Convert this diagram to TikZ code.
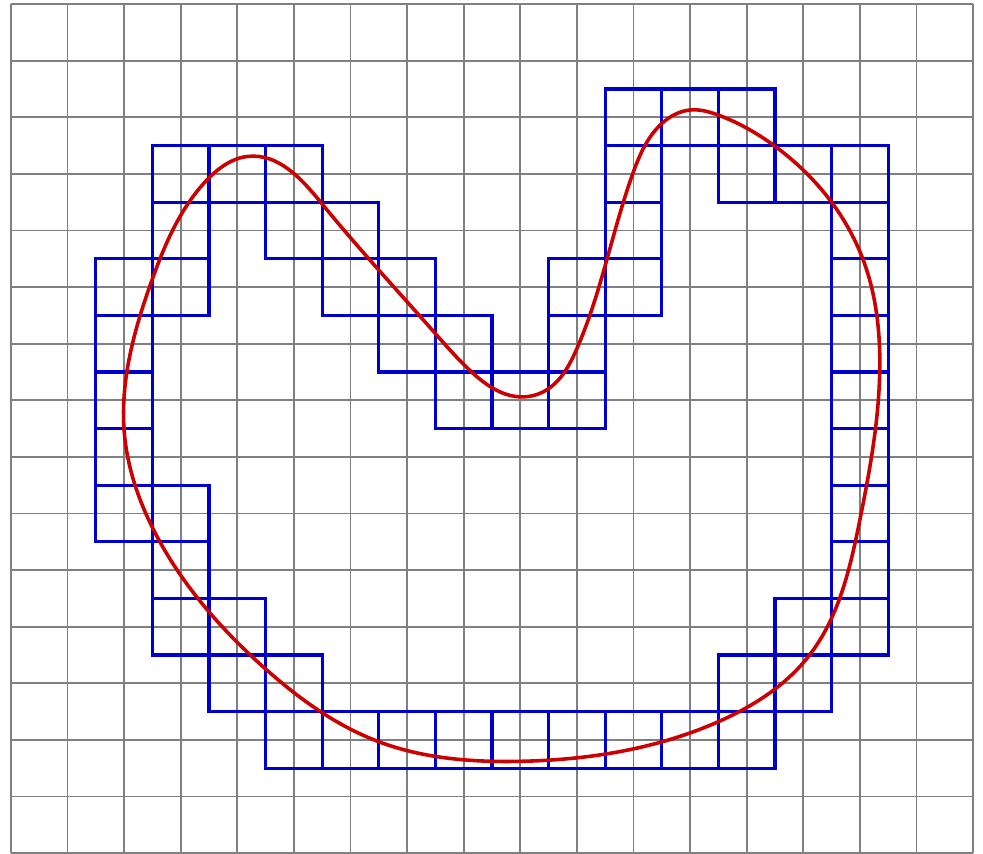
\documentclass[tikz,border=0pt]{standalone}
\usepackage{xcolor}
\definecolor{gridgray}{RGB}{128,128,128}
\definecolor{cellblue}{RGB}{0,0,204}
\definecolor{curvered}{RGB}{204,0,0}
\usepackage{tikz}
\usetikzlibrary{positioning, hobby}

\begin{document}
\begin{tikzpicture}
  \useasboundingbox (-0.194,0) rectangle (17.177,15.074);

  % --- Background grid ---
  \draw[gridgray, line width=0.9pt] (0,0) grid (17,15);

  % --- Cells touched by the curve (one row per line) ---
  \draw[cellblue, line width=1.6pt] (10.5,12.5) rectangle ++(1,1) (11.5,12.5) rectangle ++(1,1) (12.5,12.5) rectangle ++(1,1);
  \draw[cellblue, line width=1.6pt] (2.5,11.5) rectangle ++(1,1) (3.5,11.5) rectangle ++(1,1) (4.5,11.5) rectangle ++(1,1)
    (10.5,11.5) rectangle ++(1,1) (12.5,11.5) rectangle ++(1,1) (13.5,11.5) rectangle ++(1,1) (14.5,11.5) rectangle ++(1,1);
  \draw[cellblue, line width=1.6pt] (2.5,10.5) rectangle ++(1,1) (4.5,10.5) rectangle ++(1,1) (5.5,10.5) rectangle ++(1,1)
    (10.5,10.5) rectangle ++(1,1) (14.5,10.5) rectangle ++(1,1);
  \draw[cellblue, line width=1.6pt] (1.5,9.5) rectangle ++(1,1) (2.5,9.5) rectangle ++(1,1) (5.5,9.5) rectangle ++(1,1)
    (6.5,9.5) rectangle ++(1,1) (9.5,9.5) rectangle ++(1,1) (10.5,9.5) rectangle ++(1,1) (14.5,9.5) rectangle ++(1,1);
  \draw[cellblue, line width=1.6pt] (1.5,8.5) rectangle ++(1,1) (6.5,8.5) rectangle ++(1,1) (7.5,8.5) rectangle ++(1,1)
    (9.5,8.5) rectangle ++(1,1) (14.5,8.5) rectangle ++(1,1);
  \draw[cellblue, line width=1.6pt] (1.5,7.5) rectangle ++(1,1) (7.5,7.5) rectangle ++(1,1) (8.5,7.5) rectangle ++(1,1)
    (9.5,7.5) rectangle ++(1,1) (14.5,7.5) rectangle ++(1,1);
  \draw[cellblue, line width=1.6pt] (1.5,6.5) rectangle ++(1,1) (14.5,6.5) rectangle ++(1,1);
  \draw[cellblue, line width=1.6pt] (1.5,5.5) rectangle ++(1,1) (2.5,5.5) rectangle ++(1,1) (14.5,5.5) rectangle ++(1,1);
  \draw[cellblue, line width=1.6pt] (2.5,4.5) rectangle ++(1,1) (14.5,4.5) rectangle ++(1,1);
  \draw[cellblue, line width=1.6pt] (2.5,3.5) rectangle ++(1,1) (3.5,3.5) rectangle ++(1,1) (13.5,3.5) rectangle ++(1,1) (14.5,3.5) rectangle ++(1,1);
  \draw[cellblue, line width=1.6pt] (3.5,2.5) rectangle ++(1,1) (4.5,2.5) rectangle ++(1,1) (12.5,2.5) rectangle ++(1,1) (13.5,2.5) rectangle ++(1,1);
  \draw[cellblue, line width=1.6pt] (4.5,1.5) rectangle ++(1,1) (5.5,1.5) rectangle ++(1,1) (6.5,1.5) rectangle ++(1,1)
    (7.5,1.5) rectangle ++(1,1) (8.5,1.5) rectangle ++(1,1) (9.5,1.5) rectangle ++(1,1) (10.5,1.5) rectangle ++(1,1)
    (11.5,1.5) rectangle ++(1,1) (12.5,1.5) rectangle ++(1,1);

  % --- Closed curve ---
  \draw[curvered, line width=1.8pt, use Hobby shortcut, closed=true]
    (4.19,12.31) .. (5.49,11.48) .. (7.49,9.19) .. (8.14,8.50) .. (9.02,8.06) .. (9.46,8.18) .. (9.99,8.89) .. (10.99,12.01)
    .. (11.5,12.89) .. (12.0,13.13) .. (12.5,13.04) .. (13.5,12.49) .. (15.06,10.48) .. (15.35,8.42) .. (15.0,5.88)
    .. (14.09,3.47) .. (12.5,2.32) .. (9.0,1.62) .. (6.49,1.97) .. (4.49,3.26) .. (2.49,5.77) .. (2.01,7.35)
    .. (2.49,10.12) .. (3.46,11.89);
\end{tikzpicture}
\end{document}
